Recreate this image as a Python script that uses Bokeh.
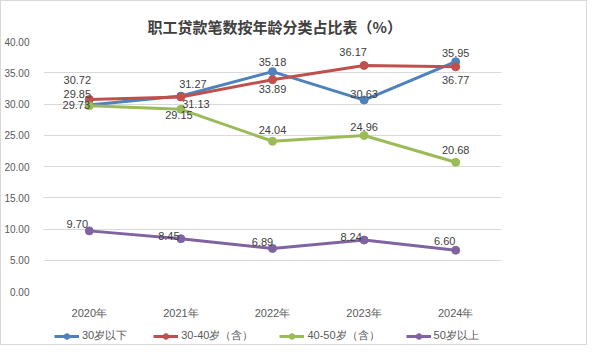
from bokeh.plotting import figure
from bokeh.layouts import column
from bokeh.models import ColumnDataSource, FactorRange, Range1d, Legend, LegendItem, FixedTicker, NumeralTickFormatter
from bokeh.core.properties import value
from bokeh.embed import file_html
from bokeh.resources import INLINE

# ---- data ----
years = ["2020年", "2021年", "2022年", "2023年", "2024年"]
series_names = ["30岁以下", "30-40岁（含）", "40-50岁（含）", "50岁以上"]
under30 = [29.85, 31.27, 35.18, 30.63, 36.77]
age30_40 = [30.72, 31.13, 33.89, 36.17, 35.95]
age40_50 = [29.73, 29.15, 24.04, 24.96, 20.68]
over50 = [9.70, 8.45, 6.89, 8.24, 6.60]
y_ticks = [0, 5, 10, 15, 20, 25, 30, 35, 40]

# ---- style ----
colors = ["#4F81BD", "#C0504D", "#9BBB59", "#8064A2"]
# label offsets in screen pixels (dx, dy: positive dy = downward)
label_dx = [
    [-12, 12, 0, 0, 0],
    [-12, 15, 0, -11, 0],
    [-13, -2, 0, 0, 0],
    [-12, -12, -10, -13, -11],
]
label_dy = [
    [-11, -12, -10, -6, 18],
    [-20, 7, 9, -13, -14],
    [-1, 6, -11, -9, -12],
    [-7, -3, -6, -3, -9],
]

NUM_FONT = "Liberation Sans"
TXT_GRAY = "#595959"

p = figure(
    width=585, height=320,
    x_range=FactorRange(*years, range_padding=0),
    y_range=Range1d(0, 40),
    output_backend="svg", toolbar_location=None,
    min_border_left=27, min_border_right=85, min_border_top=40, min_border_bottom=27,
)
p.outline_line_color = None
p.background_fill_color = "white"
p.border_fill_color = "white"

p.title.text = "职工贷款笔数按年龄分类占比表（%）"
p.title.text_font = "Noto Sans CJK SC"
p.title.text_font_size = "15px"
p.title.text_font_style = "bold"
p.title.text_color = "#404040"
p.title.align = "left"
p.title.offset = 104

# axes
p.yaxis.ticker = FixedTicker(ticks=y_ticks)
p.yaxis.formatter = NumeralTickFormatter(format="0.00")
for ax in (p.xaxis[0], p.yaxis[0]):
    ax.axis_line_color = None
    ax.major_tick_line_color = None
    ax.minor_tick_line_color = None
    ax.major_label_text_font = NUM_FONT
    ax.major_label_text_color = TXT_GRAY
p.yaxis.major_label_text_font_size = "10px"
p.yaxis.major_label_standoff = 8
p.xaxis.major_label_text_font_size = "11px"
p.xaxis.major_label_standoff = 9

p.xgrid.grid_line_color = None
p.ygrid.ticker = FixedTicker(ticks=y_ticks)
p.ygrid.grid_line_color = "#d9d9d9"
p.ygrid.grid_line_width = 1

all_series = [under30, age30_40, age40_50, over50]
sources = []
for i, vals in enumerate(all_series):
    src = ColumnDataSource(dict(x=years, y=vals))
    sources.append(src)
    p.line("x", "y", source=src, line_color=colors[i], line_width=3)
    p.scatter("x", "y", source=src, size=8, fill_color=colors[i], line_color=colors[i])

for i, vals in enumerate(all_series):
    src = ColumnDataSource(dict(
        x=years, y=vals,
        t=["%.2f" % v for v in vals],
        dx=label_dx[i], dy=label_dy[i],
    ))
    p.text("x", "y", text="t", source=src, x_offset="dx", y_offset="dy",
           text_align="center", text_baseline="middle",
           text_font=value(NUM_FONT), text_font_size="11px", text_color="#404040")

# ---- legend strip: same series drawn out of view, only the legend shows ----
lg = figure(
    width=585, height=23,
    x_range=FactorRange(*years, range_padding=0), y_range=Range1d(100, 101),
    x_axis_type=None, y_axis_type=None,
    output_backend="svg", toolbar_location=None,
    min_border_left=0, min_border_right=0, min_border_top=0, min_border_bottom=0,
)
lg.outline_line_color = None
lg.xgrid.grid_line_color = None
lg.ygrid.grid_line_color = None
lg.background_fill_color = "white"
lg.border_fill_color = "white"
items = []
for i, name in enumerate(series_names):
    lr = lg.line("x", "y", source=sources[i], line_color=colors[i], line_width=3)
    sr = lg.scatter("x", "y", source=sources[i], size=8, fill_color=colors[i], line_color=colors[i])
    items.append(LegendItem(label=name, renderers=[lr, sr]))

legend = Legend(items=items, orientation="horizontal", location=(11, 1))
legend.glyph_width = 25
legend.glyph_height = 14
legend.label_standoff = 3
legend.spacing = 26
legend.padding = 0
legend.margin = 0
legend.border_line_color = None
legend.background_fill_alpha = 0
legend.label_text_font = NUM_FONT
legend.label_text_font_size = "11px"
legend.label_text_color = TXT_GRAY
legend.label_height = 14
lg.add_layout(legend, "center")

layout = column(p, lg, spacing=0)
layout.styles = {"border": "1px solid #d9d9d9"}

open("out.html", "w").write(file_html(layout, INLINE))
